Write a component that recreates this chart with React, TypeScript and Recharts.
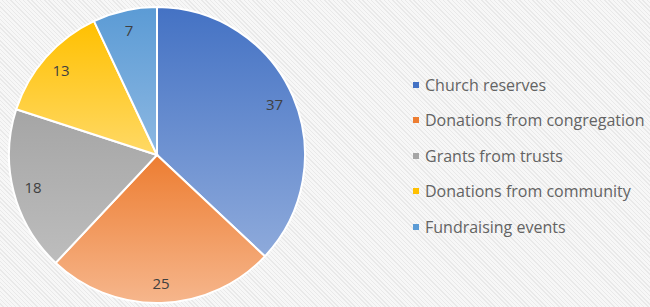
import { PieChart, Pie, Cell, Legend } from "recharts";

const sources = [
  "Church reserves",
  "Donations from congregation",
  "Grants from trusts",
  "Donations from community",
  "Fundraising events",
];
const amounts = [37, 25, 18, 13, 7];
const topColors = ["#4472c4", "#ed7d31", "#a5a5a5", "#ffc000", "#5b9bd5"];
const bottomColors = ["#8eaadb", "#f6b68c", "#bdbdbd", "#ffd966", "#8db8e2"];
const swatch = ["#4472c4", "#ed7d31", "#a5a5a5", "#ffc000", "#5b9bd5"];

const data = sources.map((name, i) => ({ name, value: amounts[i] }));

const RADIAN = Math.PI / 180;

function renderLabel(props: any) {
  const { cx, cy, midAngle, value } = props;
  const r = 128;
  const x = cx + r * Math.cos(-midAngle * RADIAN);
  const y = cy + r * Math.sin(-midAngle * RADIAN);
  return (
    <text
      x={x}
      y={y}
      fill="#404040"
      fontSize={15}
      fontFamily="Open Sans"
      textAnchor="middle"
      dominantBaseline="central"
    >
      {value}
    </text>
  );
}

function LegendList() {
  return (
    <div style={{ fontFamily: "Open Sans", fontSize: 16, color: "#636363" }}>
      {sources.map((s, i) => (
        <div
          key={s}
          style={{ display: "flex", alignItems: "center", height: 35.5, whiteSpace: "nowrap" }}
        >
          <span
            style={{
              display: "inline-block",
              width: 6,
              height: 6,
              background: swatch[i],
              marginRight: 6,
            }}
          />
          {s}
        </div>
      ))}
    </div>
  );
}

export default function App() {
  return (
    <div
      style={{
        position: "fixed",
        left: 0,
        top: 0,
        width: 650,
        height: 307,
        overflow: "hidden",
        background:
          "repeating-linear-gradient(45deg, #f7f7f7 0px, #f7f7f7 2px, #e9e9e9 2px, #e9e9e9 3px)",
      }}
    >
      <PieChart width={650} height={307} margin={{ top: 0, right: 0, bottom: 0, left: 0 }}>
        <defs>
          {topColors.map((c, i) => (
            <linearGradient key={i} id={`g${i}`} x1="0" y1="0" x2="0" y2="1">
              <stop offset="0%" stopColor={c} />
              <stop offset="100%" stopColor={bottomColors[i]} />
            </linearGradient>
          ))}
        </defs>
        <Pie
          data={data}
          dataKey="value"
          nameKey="name"
          cx={157}
          cy={155}
          outerRadius={148}
          startAngle={90}
          endAngle={-270}
          stroke="#ffffff"
          strokeWidth={2}
          label={renderLabel}
          labelLine={false}
          isAnimationActive={false}
        >
          {data.map((d, i) => (
            <Cell key={d.name} fill={`url(#g${i})`} />
          ))}
        </Pie>
        <Legend
          content={() => <LegendList />}
          wrapperStyle={{ position: "absolute", left: 413, top: 67, width: 260 }}
        />
      </PieChart>
    </div>
  );
}
